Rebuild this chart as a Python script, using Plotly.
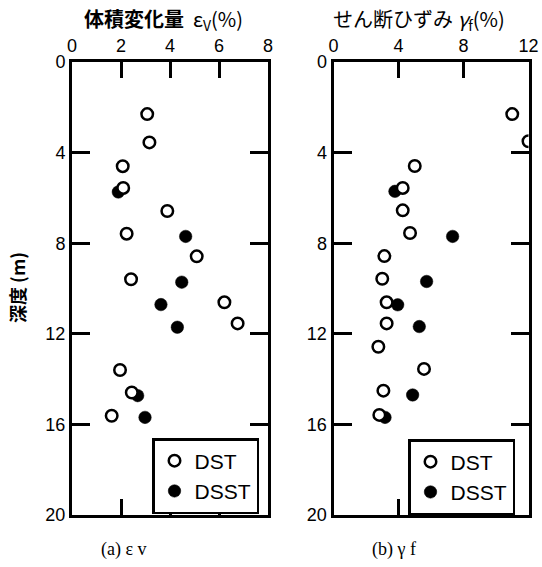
import plotly.graph_objects as go

# Volumetric strain εv (%) against depth (m)
ev_dst_depth = [2.3, 3.55, 4.6, 5.56, 6.58, 7.58, 8.58, 9.59, 10.61, 11.54, 13.6, 14.59, 15.62]
ev_dst = [3.07, 3.16, 2.07, 2.09, 3.89, 2.23, 5.09, 2.41, 6.22, 6.76, 1.96, 2.44, 1.62]
ev_dsst_depth = [5.74, 7.7, 9.72, 10.71, 11.71, 14.73, 15.69]
ev_dsst = [1.89, 4.64, 4.48, 3.63, 4.3, 2.68, 2.98]

# Shear strain γf (%) against depth (m)
gf_dst_depth = [2.3, 3.5, 4.59, 5.56, 6.55, 7.55, 8.57, 9.57, 10.61, 11.54, 12.57, 13.55, 14.51, 15.58]
gf_dst = [11.0, 12.0, 5.0, 4.26, 4.26, 4.71, 3.13, 3.0, 3.27, 3.27, 2.76, 5.57, 3.07, 2.82]
gf_dsst_depth = [5.71, 7.7, 9.69, 10.72, 11.68, 14.7, 15.69]
gf_dsst = [3.78, 7.33, 5.73, 3.95, 5.28, 4.87, 3.17]

series_names = ["DST", "DSST"]
ev_range, ev_step = [0, 8], 2
gf_range, gf_step = [0, 12], 4
depth_range, depth_step = [20, 0], 4

W, H = 542, 567
SANS = "Liberation Sans, Arial, sans-serif"
TICK_FONT = dict(family=SANS, size=18, color="black")

def px_x(p):
    return p / W

def px_y(p):
    return 1 - p / H

y_dom = [px_y(515), px_y(62)]
left_dom = [px_x(72), px_x(268)]
right_dom = [px_x(333.5), px_x(528.5)]

open_marker = dict(symbol="circle", size=11.5, color="white", line=dict(color="black", width=2.5))
fill_marker = dict(symbol="circle", size=12.5, color="black", line=dict(color="black", width=0.5))

fig = go.Figure(layout=dict(template="none"))

# panel (a)
fig.add_trace(go.Scatter(x=ev_dsst, y=ev_dsst_depth, mode="markers", name=series_names[1],
                         marker=fill_marker, xaxis="x", yaxis="y", legend="legend",
                         legendrank=2))
fig.add_trace(go.Scatter(x=ev_dst, y=ev_dst_depth, mode="markers", name=series_names[0],
                         marker=open_marker, xaxis="x", yaxis="y", legend="legend",
                         legendrank=1))
# panel (b)
fig.add_trace(go.Scatter(x=gf_dsst, y=gf_dsst_depth, mode="markers", name=series_names[1],
                         marker=fill_marker, xaxis="x2", yaxis="y2", legend="legend2",
                         legendrank=2))
fig.add_trace(go.Scatter(x=gf_dst, y=gf_dst_depth, mode="markers", name=series_names[0],
                         marker=open_marker, xaxis="x2", yaxis="y2", legend="legend2",
                         legendrank=1))

def strain_axis(dom, rng, step, anchor):
    return dict(domain=dom, range=rng, side="top", anchor=anchor, dtick=step,
                ticks="inside", ticklen=16, tickwidth=2.5, tickcolor="black",
                showline=True, linewidth=3, linecolor="black", mirror="ticks",
                showgrid=False, zeroline=False, tickfont=TICK_FONT)

def depth_axis(anchor):
    return dict(domain=y_dom, range=depth_range, anchor=anchor, dtick=depth_step,
                ticks="inside", ticklen=18, tickwidth=2.5, tickcolor="black",
                showline=True, linewidth=3, linecolor="black", mirror="ticks",
                showgrid=False, zeroline=False, tickfont=TICK_FONT)

legend_style = dict(xanchor="left", yanchor="top", bgcolor="white",
                    bordercolor="black", borderwidth=2.5,
                    font=dict(family=SANS, size=21, color="black"),
                    tracegroupgap=0, itemsizing="trace", traceorder="normal")

fig.update_layout(
    width=W, height=H,
    margin=dict(l=0, r=0, t=0, b=0),
    paper_bgcolor="white", plot_bgcolor="white",
    font=dict(family=SANS, color="black"),
    xaxis=strain_axis(left_dom, ev_range, ev_step, "y"),
    xaxis2=strain_axis(right_dom, gf_range, gf_step, "y2"),
    yaxis=depth_axis("x"),
    yaxis2=depth_axis("x2"),
    legend=dict(x=px_x(152), y=px_y(438), **legend_style),
    legend2=dict(x=px_x(408), y=px_y(439), **legend_style),
    showlegend=True,
)

cjk = "Noto Sans CJK JP, sans-serif"
annotations = [
    dict(text="<b>体積変化量</b>  ε<sub>V</sub>(%)", x=px_x(163), y=px_y(19),
         font=dict(family=cjk, size=20, color="black")),
    dict(text="せん断ひずみ <i>γ</i><sub>f</sub>(%)", x=px_x(419), y=px_y(19),
         font=dict(family=cjk, size=20, color="black")),
    dict(text="<b>深度 (m)</b>", x=px_x(17), y=px_y(288), textangle=-90,
         font=dict(family=cjk, size=18, color="black")),
    dict(text="(a) ε v", x=px_x(124), y=px_y(549),
         font=dict(family="Liberation Serif, DejaVu Serif, serif", size=18, color="black")),
    dict(text="(b) γ f", x=px_x(394), y=px_y(549),
         font=dict(family="Liberation Serif, DejaVu Serif, serif", size=18, color="black")),
]
for a in annotations:
    fig.add_annotation(xref="paper", yref="paper", showarrow=False,
                       xanchor="center", yanchor="middle", **a)

fig.write_html("out.html")
